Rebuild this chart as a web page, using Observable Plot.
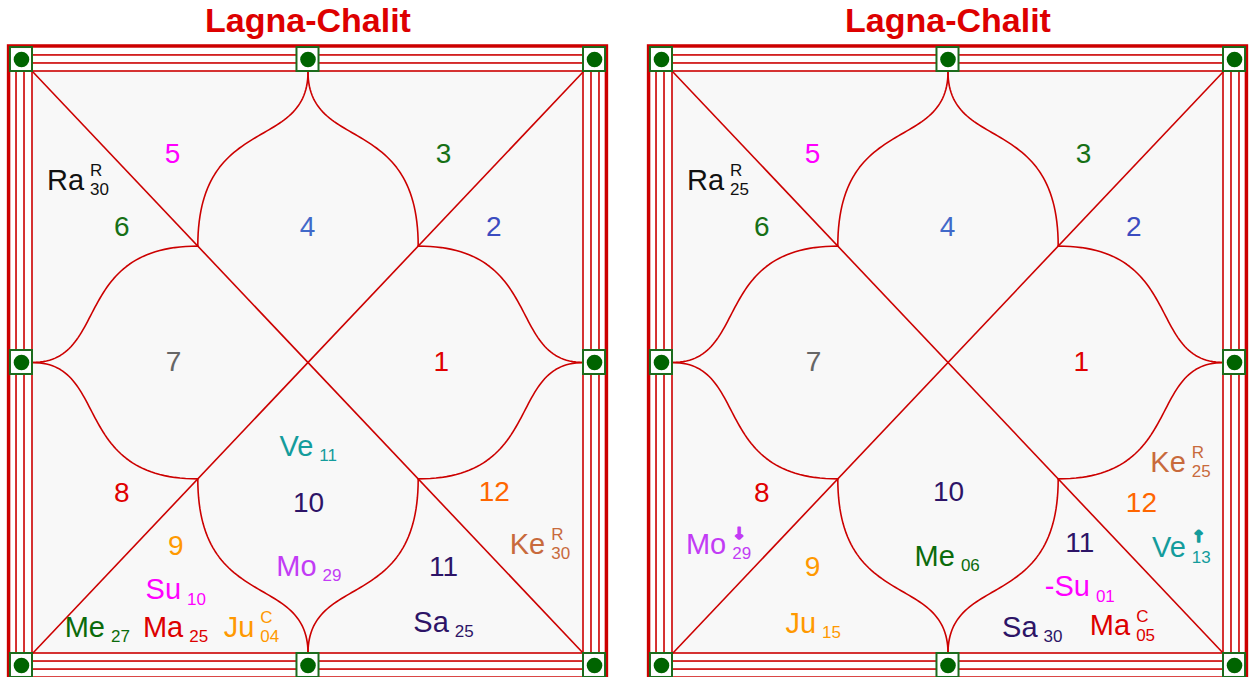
<!DOCTYPE html>
<html><head><meta charset="utf-8">
<script src="https://cdn.jsdelivr.net/npm/d3@7"></script>
<script src="https://cdn.jsdelivr.net/npm/@observablehq/plot@0.6"></script>
<style>
html,body{margin:0;padding:0;background:#fff;overflow:hidden;width:1250px;height:677px;}
.panel{position:absolute;top:0;width:616px;}
.title{height:40px;line-height:40px;text-align:center;font-family:"Liberation Sans",Arial,sans-serif;font-weight:bold;font-size:34px;color:#dd0000;}
</style></head><body>
<div id="p0" class="panel" style="left:0"></div>
<div id="p1" class="panel" style="left:640px"></div>
<script>
// ---------- data ----------
const chartTitles = ["Lagna-Chalit", "Lagna-Chalit"];
const signNumbers = [1,2,3,4,5,6,7,8,9,10,11,12];

const chart1Planets = ["Ra","Su","Ma","Ju","Me","Ve","Mo","Sa","Ke"];
const chart1Degrees = ["30","10","25","04","27","11","29","25","30"];
const chart1Flags   = ["R","","","C","","","","","R"];
const chart1Houses  = [6,9,9,9,9,10,10,11,12];

const chart2Planets = ["Ra","Mo","Ju","Me","-Su","Sa","Ma","Ke","Ve"];
const chart2Degrees = ["25","29","15","06","01","30","05","25","13"];
const chart2Flags   = ["R","↓","","","","","C","R","↑"];
const chart2Houses  = [6,8,9,10,11,11,11,12,12];

// ---------- layout (chart units, inner square 0..100) ----------
const signLayout = [
  {1:[74.2,50],2:[83.7,26.8],3:[74.6,14.1],4:[49.9,26.8],5:[25.4,14.1],6:[16.2,26.8],
   7:[25.6,50],8:[16.2,72.5],9:[26.0,81.6],10:[50.1,74.1],11:[74.6,85.1],12:[83.8,72.3]},
  {1:[74.2,50],2:[83.7,26.8],3:[74.6,14.1],4:[49.9,26.8],5:[25.4,14.1],6:[16.2,26.8],
   7:[25.6,50],8:[16.2,72.5],9:[25.4,85.1],10:[50.1,72.3],11:[73.9,81.0],12:[85.1,74.1]}
];
const planetLayout = [
  [[9.9,18.7],[27.5,89.1],[27.9,95.6],[40.8,95.5],[13.7,95.5],[51.5,64.4],[52.1,85.1],[76.1,94.7],[93.6,81.3]],
  [[9.9,18.7],[10.3,81.3],[26.6,94.8],[51.8,83.3],[76.3,88.6],[66.8,95.6],[83.6,95.3],[93.7,67.2],[93.7,81.9]]
];

// ---------- styles ----------
const signColor = {1:"#e00000",2:"#3b4cc0",3:"#167016",4:"#4169c9",5:"#ff00ff",6:"#167016",
  7:"#666666",8:"#e00000",9:"#ff9900",10:"#2d1467",11:"#2d1467",12:"#ff6600"};
const planetColor = {Ra:"#111111",Su:"#ff00ff",Ma:"#dd0000",Ju:"#ff9900",Me:"#0b6b0b",
  Ve:"#149c9c",Mo:"#c23cf5",Sa:"#2d1467",Ke:"#c86a3c"};
const LINE = "#cc0000";
const FONT = '"Liberation Sans", Arial, sans-serif';

// lotus curve geometry
function cubic(p0,p1,p2,p3,n,id){
  const out=[];
  for(let i=0;i<=n;i++){const t=i/n,u=1-t;
    out.push({id,x:u*u*u*p0[0]+3*u*u*t*p1[0]+3*u*t*t*p2[0]+t*t*t*p3[0],
              y:u*u*u*p0[1]+3*u*u*t*p1[1]+3*u*t*t*p2[1]+t*t*t*p3[1]});}
  return out;
}
function lotus(){
  const T=[50,0],B=[50,100],L=[0,50],R=[100,50];
  const tl=[30,30],tr=[70,30],br=[70,70],bl=[30,70];
  const segs=[[T,tl,"v"],[T,tr,"v"],[B,bl,"v"],[B,br,"v"],[L,tl,"h"],[L,bl,"h"],[R,tr,"h"],[R,br,"h"]];
  const a=14,c=7;let pts=[];
  segs.forEach(([m,j,k],i)=>{
    let p1,p2;
    if(k==="v"){const s=Math.sign(j[1]-m[1]);p1=[m[0],m[1]+s*a];p2=[j[0],m[1]+s*c];}
    else{const s=Math.sign(j[0]-m[0]);p1=[m[0]+s*a,m[1]];p2=[m[0]+s*c,j[1]];}
    pts=pts.concat(cubic(m,p1,p2,j,60,i));
  });
  return pts;
}

function build(ci, names, degs, flags, houses){
  const signs = signNumbers.map(s=>({s, x:signLayout[ci][s][0], y:signLayout[ci][s][1]}));
  const planets = names.map((n,i)=>({name:n, base:n.replace("-",""), deg:degs[i], flag:flags[i], house:houses[i],
     x:planetLayout[ci][i][0], y:planetLayout[ci][i][1]}));
  const letterFlags = planets.filter(d=>d.flag && !/[↑↓]/.test(d.flag));
  const arrowFlags = planets.filter(d=>/[↑↓]/.test(d.flag));
  const frameThin=[{dx:0,dy:0},{dx:1.45,dy:1.38},{dx:2.9,dy:2.76}];
  const frameOuter=[{dx:4.25,dy:4.3}];
  const boxes=[];
  for(const bx of [-2,50,102]) for(const by of [-2.06,50,102.06]) if(!(bx===50&&by===50)) boxes.push({x:bx,y:by});
  const diag=[{x1:0,y1:0,x2:100,y2:100},{x1:100,y1:0,x2:0,y2:100}];
  const plot = Plot.plot({
    width:616, height:640, margin:0,
    x:{domain:[0,100], range:[32,583], axis:null},
    y:{domain:[0,100], range:[31,613], axis:null},
    style:{fontFamily:FONT, background:"transparent", overflow:"visible"},
    marks:[
      Plot.rect([{}],{x1:0,x2:100,y1:0,y2:100,fill:"#f8f8f8"}),
      Plot.rect(frameThin,{x1:d=>-d.dx,x2:d=>100+d.dx,y1:d=>-d.dy,y2:d=>100+d.dy,fill:"none",stroke:LINE,strokeWidth:1.6}),
      Plot.rect(frameOuter,{x1:d=>-d.dx,x2:d=>100+d.dx,y1:d=>-d.dy,y2:d=>100+d.dy,fill:"none",stroke:LINE,strokeWidth:3.5}),
      Plot.link(diag,{x1:"x1",y1:"y1",x2:"x2",y2:"y2",stroke:LINE,strokeWidth:1.6}),
      Plot.line(lotus(),{x:"x",y:"y",z:"id",stroke:LINE,strokeWidth:1.6,curve:"linear"}),
      Plot.rect(boxes,{x1:d=>d.x-2,x2:d=>d.x+2,y1:d=>d.y-2.06,y2:d=>d.y+2.06,fill:"white",stroke:"#1c6b1c",strokeWidth:2}),
      Plot.dot(boxes,{x:"x",y:"y",r:7.8,fill:"#006400",stroke:"none"}),
      Plot.text(signs,{x:"x",y:"y",text:d=>String(d.s),fill:d=>signColor[d.s],fontSize:28}),
      Plot.text(planets,{x:"x",y:"y",text:"name",fill:d=>planetColor[d.base],fontSize:29,textAnchor:"end",dx:-3}),
      Plot.text(planets,{x:"x",y:"y",text:"deg",fill:d=>planetColor[d.base],fontSize:17,textAnchor:"start",dx:3,dy:9}),
      Plot.text(letterFlags,{x:"x",y:"y",text:"flag",fill:d=>planetColor[d.base],fontSize:17,textAnchor:"start",dx:3,dy:-10}),
      Plot.text(arrowFlags,{x:"x",y:"y",text:"flag",fill:d=>planetColor[d.base],stroke:d=>planetColor[d.base],strokeWidth:1.6,fontSize:16,fontWeight:"bold",fontFamily:"DejaVu Sans",textAnchor:"start",dx:3,dy:-11})
    ],
    color:{type:"identity"}
  });
  const host=document.getElementById("p"+ci);
  const t=document.createElement("div");t.className="title";t.textContent=chartTitles[ci];
  host.appendChild(t);host.appendChild(plot);
}
build(0, chart1Planets, chart1Degrees, chart1Flags, chart1Houses);
build(1, chart2Planets, chart2Degrees, chart2Flags, chart2Houses);
</script></body></html>
